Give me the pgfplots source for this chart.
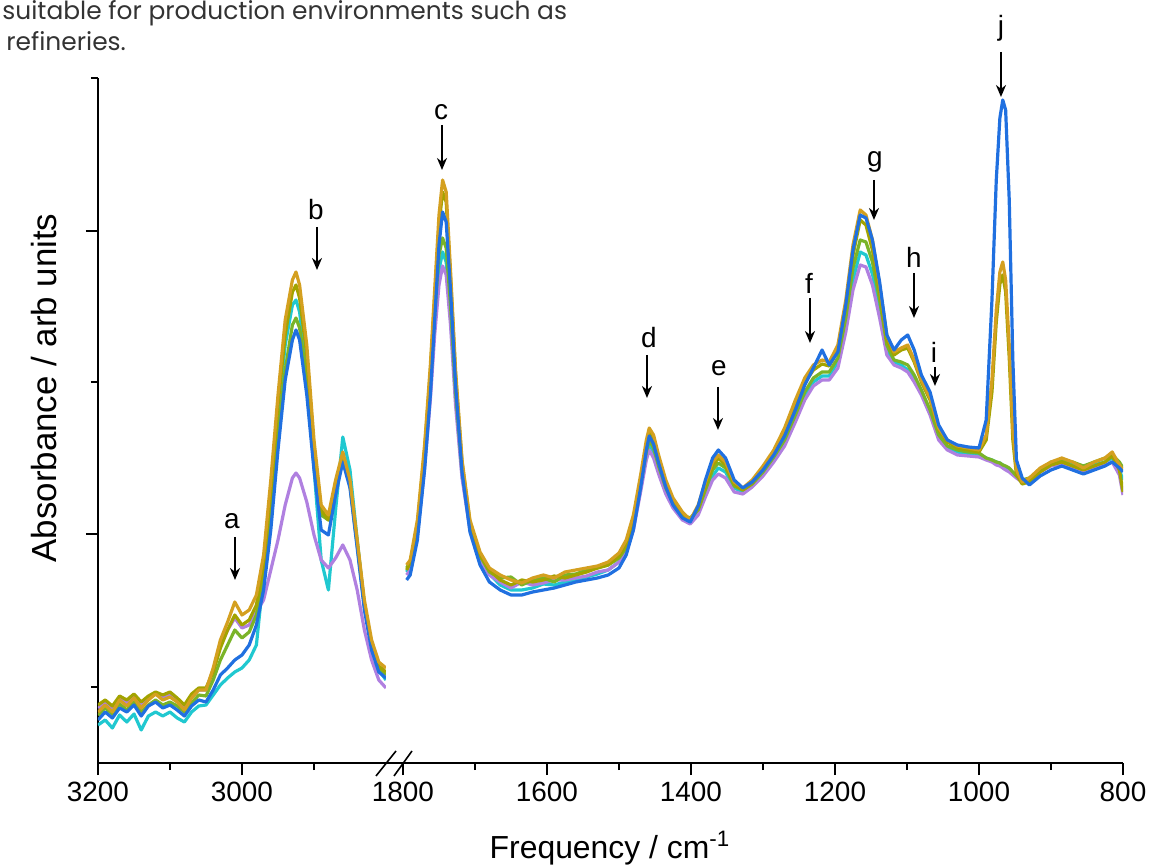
\documentclass[border=0pt]{standalone}
\usepackage{fontspec}
\setmainfont{Liberation Sans}
\newfontfamily\topfont{Poppins}
\usepackage{pgfplots}
\pgfplotsset{compat=1.18}
\usepackage{pgfplotstable}
\usetikzlibrary{arrows.meta}

\definecolor{cT}{HTML}{D4A020}
\definecolor{cO}{HTML}{A3A300}
\definecolor{cB}{HTML}{2070E0}
\definecolor{cG}{HTML}{7AB428}
\definecolor{cP}{HTML}{B080E0}
\definecolor{cC}{HTML}{20C8D0}

% heights in arbitrary units (0 = bottom of the axis)
\pgfplotstableread{
nu   t   o   b   g   p   c
3200 51  58  43  48  55  38
3190 58  63  51  55  61  43
3180 51  57  45  49  53  35
3170 63  67  55  59  65  48
3160 57  63  51  53  60  41
3150 65  69  58  61  67  49
3140 55  61  47  51  58  33
3130 63  67  57  58  65  47
3120 69  71  61  63  69  51
3110 63  68  55  58  65  47
3100 66  71  58  61  68  51
3090 61  65  53  57  63  45
3080 53  58  47  51  57  41
3070 65  69  57  60  67  51
3060 73  75  63  68  73  57
3050 73  75  61  67  73  58
3040 95  91  73  83  93  68
3030 123 115 88  103 118 78
3020 141 133 95  118 133 85
3010 161 148 103 133 145 91
3000 148 138 108 125 135 95
2990 153 143 118 131 138 103
2980 168 158 138 148 151 118
2970 208 198 173 185 163 188
2960 283 273 233 248 193 263
2950 368 358 313 328 223 348
2940 443 428 383 393 258 418
2930 483 471 423 438 285 458
2925 491 478 433 445 290 463
2920 478 465 423 435 285 451
2910 418 408 368 385 261 391
2900 323 315 293 308 228 295
2890 258 253 233 248 203 203
2880 248 243 228 243 195 173
2870 283 278 268 275 205 253
2860 311 305 301 303 218 326
2850 283 278 275 278 203 293
2840 223 221 215 218 173 223
2830 163 158 153 158 133 158
2820 123 118 113 118 103 118
2810 101 97  91  95  83  93
2800 95  91  85  88  75  83
}\lefttab

\pgfplotstableread{
nu   t   o   b   g   p   c
1795 198 193 183 195 188 191
1790 203 200 188 201 193 197
1780 243 238 223 235 228 233
1770 318 313 293 305 295 301
1762 398 391 368 378 363 371
1756 473 465 443 448 428 438
1750 548 538 518 508 478 493
1745 583 571 551 525 497 511
1740 571 561 541 515 488 501
1734 493 485 473 458 438 448
1727 393 388 378 371 358 365
1718 303 301 291 293 285 288
1707 243 241 231 238 233 235
1693 211 208 198 207 203 205
1680 195 193 181 191 188 189
1665 188 183 173 185 181 178
1650 183 178 168 186 175 173
1635 180 183 168 178 181 173
1620 185 181 171 183 178 175
1605 188 183 173 185 180 179
1590 185 187 175 181 183 178
1575 191 185 178 188 183 181
1560 193 188 181 189 185 183
1545 195 191 183 193 187 186
1530 197 195 185 195 191 189
1515 201 198 188 198 193 193
1500 210 207 195 205 201 201
1490 223 218 208 215 211 213
1480 248 243 233 238 233 235
1470 288 283 275 278 271 275
1462 323 318 313 311 303 308
1458 335 331 327 323 313 318
1452 328 323 319 315 305 311
1445 308 303 300 297 289 293
1435 283 279 276 275 269 271
1425 265 263 258 260 255 257
1412 251 249 245 248 243 245
1401 243 243 241 245 239 241
1390 258 255 257 253 248 251
1380 281 277 283 273 266 269
1370 301 297 305 293 283 287
1362 308 305 313 300 289 295
1352 301 298 305 295 285 291
1340 281 279 283 277 271 275
1328 275 273 275 273 269 271
1315 283 280 281 279 276 277
1300 297 294 293 291 287 289
1285 313 311 308 306 301 303
1270 335 331 327 323 317 320
1255 363 358 353 348 341 345
1242 385 380 378 371 363 367
1230 398 393 395 385 377 381
1218 403 399 413 391 383 387
1208 401 397 398 391 383 387
1196 418 413 411 405 395 401
1185 463 455 458 445 431 438
1175 518 508 513 495 473 483
1165 553 543 548 523 498 511
1157 548 538 545 521 496 508
1148 523 513 523 501 478 489
1138 478 471 481 463 445 453
1128 428 423 428 418 408 413
1118 411 408 413 403 398 401
1108 415 413 423 401 395 398
1099 418 415 428 398 391 393
1090 403 401 413 388 381 383
1080 383 381 388 373 368 371
1068 365 363 371 353 348 351
1056 335 333 338 328 323 325
1044 323 321 323 317 313 315
1030 317 315 318 313 308 311
1015 315 313 316 311 307 309
1000 313 311 315 310 306 308
990  328 323 343 305 303 305
982  383 371 463 303 301 303
976  453 441 583 301 298 301
971  491 479 645 300 297 300
967  501 488 663 298 295 298
963  483 471 653 297 293 296
958  418 405 563 295 291 293
953  333 323 403 291 288 290
948  293 288 303 287 285 286
940  281 279 285 283 281 282
930  285 281 278 285 283 284
915  295 291 287 293 291 292
900  301 298 293 301 297 299
885  305 301 297 303 299 301
870  301 297 293 301 295 299
855  295 293 289 297 291 293
840  301 297 293 301 295 298
825  305 301 297 305 298 301
815  311 307 301 308 301 305
805  298 293 295 301 288 293
800  293 271 291 295 268 283
}\righttab

\pgfplotsset{
  base/.style={
    scale only axis, height=342.5bp, ymin=0, ymax=685, x dir=reverse,
    axis x line*=bottom,
    axis line style={line width=0.9bp, -},
    tick style={line width=0.9bp, black},
    tick align=outside, major tick length=6bp, minor tick length=3.5bp,
    ticklabel style={font=\fontsize{14}{16}\selectfont},
    /pgf/number format/1000 sep={},
    /pgf/number format/assume math mode=true,
  },
  spec/.style={line width=1.6bp, line join=round, mark=none},
}

\begin{document}
\begin{tikzpicture}
\path[use as bounding box] (0,0) rectangle (576bp,434bp);

\begin{axis}[base, at={(49bp,52.5bp)}, anchor=south west, width=144bp,
  xmin=2800, xmax=3200, axis y line*=left,
  xtick={3000,3200}, minor xtick={2900,3100},
  ytick={229,532}, minor ytick={76,381,685}, yticklabels={}]
\addplot[spec, cC] table[x=nu, y=c] {\lefttab};
\addplot[spec, cP] table[x=nu, y=p] {\lefttab};
\addplot[spec, cG] table[x=nu, y=g] {\lefttab};
\addplot[spec, cO] table[x=nu, y=o] {\lefttab};
\addplot[spec, cB] table[x=nu, y=b] {\lefttab};
\addplot[spec, cT] table[x=nu, y=t] {\lefttab};
\end{axis}

\begin{axis}[base, at={(201.5bp,52.5bp)}, anchor=south west, width=360bp,
  xmin=800, xmax=1800, hide y axis,
  xtick={800,1000,...,1800}, minor xtick={900,1100,...,1700}]
\addplot[spec, cC] table[x=nu, y=c] {\righttab};
\addplot[spec, cP] table[x=nu, y=p] {\righttab};
\addplot[spec, cG] table[x=nu, y=g] {\righttab};
\addplot[spec, cO] table[x=nu, y=o] {\righttab};
\addplot[spec, cT] table[x=nu, y=t] {\righttab};
\addplot[spec, cB] table[x=nu, y=b] {\righttab};
\end{axis}

\begin{scope}[x=0.5bp, y=-0.5bp, shift={(0,434bp)}]
  % axis break
  \draw[line width=0.9bp] (386,763) -- (403,763);
  \draw[line width=0.8bp] (376,776) -- (396,751);
  \draw[line width=0.8bp] (394,776) -- (412,751);
  % labels
  \node[rotate=90, anchor=base, font=\fontsize{17.5}{20}\selectfont] at (56,388) {Absorbance / arb units};
  \node[anchor=base, font=\fontsize{16}{19}\selectfont] at (610,859) {Frequency / cm\textsuperscript{-1}};
  % band annotations
  \tikzset{lab/.style={font=\fontsize{14}{16}\selectfont}, arr/.style={line width=1bp, -{Stealth[length=6bp, width=5bp]}}}
  \node[lab] at (232,521) {a}; \draw[arr] (235,537) -- (235,580);
  \node[lab] at (316,210) {b}; \draw[arr] (317,227) -- (317,270);
  \node[lab] at (441,112) {c}; \draw[arr] (442,125) -- (442,170);
  \node[lab] at (649,338) {d}; \draw[arr] (647,355) -- (647,398);
  \node[lab] at (719,368) {e}; \draw[arr] (718,387) -- (718,430);
  \node[lab] at (809,283) {f}; \draw[arr] (810,298) -- (810,343);
  \node[lab] at (875,162) {g}; \draw[arr] (874,180) -- (874,220);
  \node[lab] at (914,257) {h}; \draw[arr] (914,273) -- (914,318);
  \node[lab] at (934,352) {i}; \draw[arr] (935,367) -- (935,386);
  \node[lab] at (1001,28) {j}; \draw[arr] (1001,52) -- (1001,97);
  % cropped page text
  \node[anchor=base west, inner sep=0, text=black!80, font=\topfont\fontsize{12.5}{15}\selectfont] at (2,20) {suitable for production environments such as};
  \node[anchor=base west, inner sep=0, text=black!80, font=\topfont\fontsize{12.5}{15}\selectfont] at (6,51) {refineries.};
\end{scope}
\end{tikzpicture}
\end{document}
